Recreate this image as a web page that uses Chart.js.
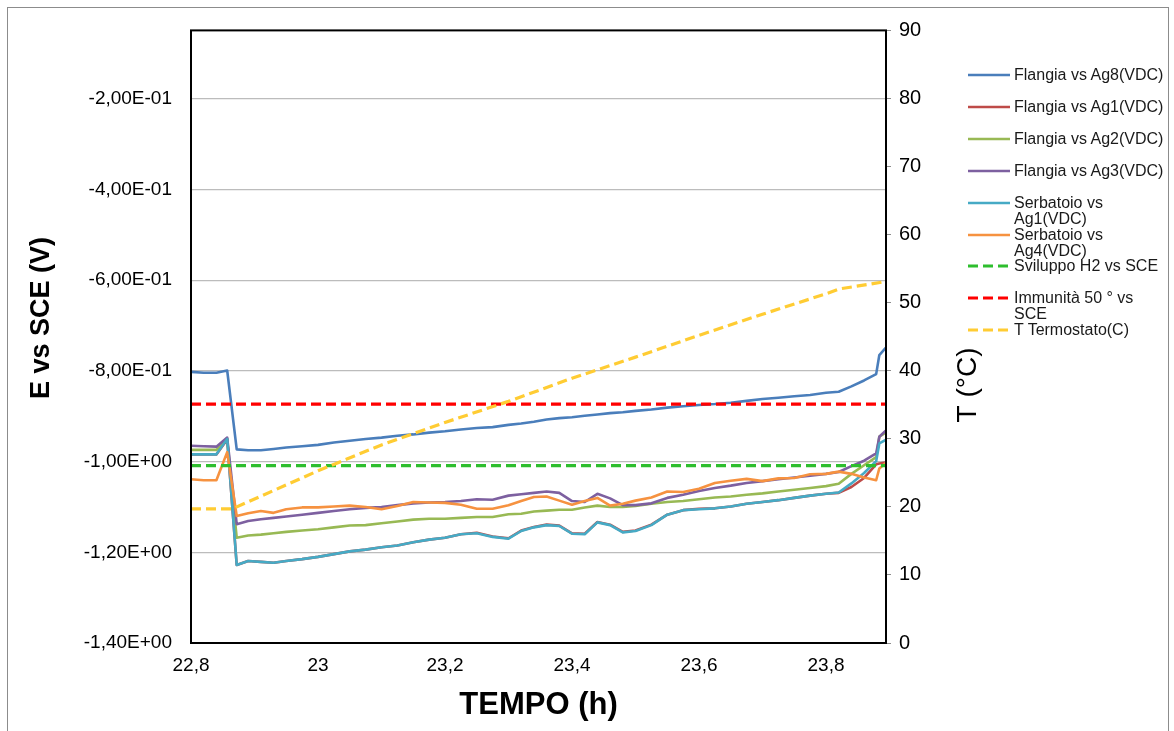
<!DOCTYPE html>
<html>
<head>
<meta charset="utf-8">
<script src="https://cdn.jsdelivr.net/npm/chart.js@4.4.1/dist/chart.umd.min.js"></script>
<style>
  html, body { margin: 0; padding: 0; background: #fff; }
  #wrap { position: relative; width: 1174px; height: 731px; overflow: hidden; }
  #frame { position: absolute; left: 7px; top: 7px; width: 1160px; height: 740px; border: 1px solid #8c8c8c; }
  #grafico { position: absolute; left: 0; top: 0; }
  #legenda { position: absolute; left: 0; top: 0; font-family: "Liberation Sans", Arial, sans-serif; font-size: 16px; color: #1a1a1a; }
  .voce { position: absolute; left: 968px; width: 210px; }
  .voce svg { position: absolute; left: 0; top: 0; }
  .voce span { position: absolute; left: 46px; top: 0; width: 154px; line-height: 16px; }
</style>
</head>
<body>
<div id="wrap">
  <div id="frame"></div>
  <canvas id="grafico" width="1174" height="731"></canvas>
  <div id="legenda"></div>
</div>
<script>
// tempo (h), comune a tutte le serie misurate
const tempo = [22.800, 22.820, 22.840, 22.857, 22.872, 22.890, 22.910, 22.930, 22.950, 22.975,
  23.000, 23.025, 23.050, 23.075, 23.100, 23.125, 23.150, 23.175, 23.200, 23.225,
  23.250, 23.275, 23.300, 23.320, 23.340, 23.360, 23.380, 23.400, 23.420, 23.440,
  23.460, 23.480, 23.500, 23.525, 23.550, 23.575, 23.600, 23.625, 23.650, 23.675,
  23.700, 23.725, 23.750, 23.775, 23.800, 23.820, 23.840, 23.860, 23.879, 23.884, 23.894];

const flangiaAg8 = [-0.802, -0.804, -0.804, -0.799, -0.973, -0.975, -0.975, -0.972, -0.969, -0.966,
  -0.963, -0.958, -0.954, -0.950, -0.947, -0.943, -0.940, -0.936, -0.933, -0.929,
  -0.926, -0.924, -0.919, -0.916, -0.912, -0.907, -0.904, -0.902, -0.899, -0.896,
  -0.893, -0.891, -0.888, -0.885, -0.881, -0.878, -0.875, -0.873, -0.870, -0.866,
  -0.862, -0.859, -0.856, -0.853, -0.848, -0.846, -0.834, -0.821, -0.807, -0.765, -0.749];

const flangiaAg1 = [-0.984, -0.984, -0.984, -0.951, -1.228, -1.219, -1.221, -1.223, -1.219, -1.215,
  -1.210, -1.204, -1.198, -1.194, -1.189, -1.185, -1.178, -1.172, -1.168, -1.160,
  -1.157, -1.165, -1.169, -1.152, -1.144, -1.139, -1.141, -1.158, -1.159, -1.133,
  -1.139, -1.155, -1.152, -1.139, -1.117, -1.107, -1.104, -1.103, -1.099, -1.093,
  -1.089, -1.085, -1.080, -1.075, -1.071, -1.069, -1.056, -1.036, -1.006, -1.004, -1.002];

const flangiaAg2 = [-0.974, -0.974, -0.974, -0.950, -1.168, -1.163, -1.161, -1.158, -1.155, -1.152,
  -1.149, -1.145, -1.141, -1.140, -1.136, -1.132, -1.128, -1.126, -1.126, -1.124,
  -1.122, -1.122, -1.116, -1.115, -1.110, -1.108, -1.106, -1.106, -1.101, -1.097,
  -1.100, -1.100, -1.098, -1.093, -1.089, -1.087, -1.083, -1.079, -1.077, -1.073,
  -1.070, -1.066, -1.062, -1.058, -1.054, -1.049, -1.027, -1.008, -0.990, -0.945, -0.936];

const flangiaAg3 = [-0.965, -0.966, -0.967, -0.947, -1.138, -1.131, -1.127, -1.124, -1.121, -1.117,
  -1.113, -1.109, -1.105, -1.102, -1.100, -1.096, -1.092, -1.090, -1.089, -1.087,
  -1.083, -1.084, -1.075, -1.072, -1.069, -1.066, -1.069, -1.087, -1.089, -1.071,
  -1.081, -1.096, -1.096, -1.092, -1.080, -1.073, -1.065, -1.058, -1.053, -1.047,
  -1.043, -1.039, -1.035, -1.031, -1.027, -1.023, -1.010, -0.998, -0.982, -0.945, -0.932];

const serbatoioAg1 = [-0.984, -0.984, -0.984, -0.950, -1.228, -1.219, -1.221, -1.223, -1.219, -1.215,
  -1.210, -1.204, -1.198, -1.194, -1.189, -1.185, -1.178, -1.172, -1.168, -1.160,
  -1.158, -1.166, -1.170, -1.153, -1.145, -1.140, -1.142, -1.159, -1.160, -1.134,
  -1.140, -1.156, -1.153, -1.140, -1.117, -1.107, -1.105, -1.103, -1.099, -1.093,
  -1.089, -1.085, -1.080, -1.075, -1.071, -1.068, -1.048, -1.025, -0.999, -0.960, -0.952];

const serbatoioAg4 = [-1.039, -1.041, -1.041, -0.979, -1.120, -1.114, -1.109, -1.113, -1.105, -1.101,
  -1.101, -1.099, -1.097, -1.100, -1.105, -1.098, -1.089, -1.090, -1.091, -1.095,
  -1.104, -1.104, -1.096, -1.087, -1.078, -1.077, -1.086, -1.095, -1.087, -1.080,
  -1.097, -1.093, -1.086, -1.079, -1.066, -1.067, -1.060, -1.047, -1.042, -1.038,
  -1.043, -1.037, -1.036, -1.028, -1.027, -1.022, -1.027, -1.035, -1.041, -1.015, -1.003];

// livelli di riferimento (V vs SCE)
const tempoLivelli = [22.800, 23.894];
const sviluppoH2 = [-1.009, -1.009];
const immunita50 = [-0.873, -0.873];

// temperatura termostato (asse destro, °C)
const tempoTermostato = [22.800, 22.865, 23.000, 23.100, 23.200, 23.300, 23.400, 23.500, 23.600, 23.700, 23.800, 23.820, 23.894];
const tTermostato = [19.7, 19.7, 25.3, 29.1, 32.4, 35.5, 38.9, 42.0, 45.2, 48.3, 51.3, 52.0, 53.1];

// assi
const xTickValues = [22.8, 23.0, 23.2, 23.4, 23.6, 23.8];
const xTickLabels = ["22,8", "23", "23,2", "23,4", "23,6", "23,8"];
const yTickValues = [-1.4, -1.2, -1.0, -0.8, -0.6, -0.4, -0.2];
const yTickLabels = ["-1,40E+00", "-1,20E+00", "-1,00E+00", "-8,00E-01", "-6,00E-01", "-4,00E-01", "-2,00E-01"];
const y1TickValues = [0, 10, 20, 30, 40, 50, 60, 70, 80, 90];

const FONT = '"Liberation Sans", Arial, sans-serif';

function punti(xs, ys) {
  return ys.map((y, i) => ({ x: xs[i], y: y }));
}

const serie = [
  { label: "Flangia vs Ag8(VDC)", colore: "#4A7EBB", data: punti(tempo, flangiaAg8), dash: [] },
  { label: "Flangia vs Ag1(VDC)", colore: "#BE4B48", data: punti(tempo, flangiaAg1), dash: [] },
  { label: "Flangia vs Ag2(VDC)", colore: "#98B954", data: punti(tempo, flangiaAg2), dash: [] },
  { label: "Flangia vs Ag3(VDC)", colore: "#7D60A0", data: punti(tempo, flangiaAg3), dash: [] },
  { label: "Serbatoio vs Ag1(VDC)", colore: "#46AAC5", data: punti(tempo, serbatoioAg1), dash: [] },
  { label: "Serbatoio vs Ag4(VDC)", colore: "#F69240", data: punti(tempo, serbatoioAg4), dash: [] },
  { label: "Sviluppo H2 vs SCE", colore: "#2EBE2E", data: punti(tempoLivelli, sviluppoH2), dash: [10, 5] },
  { label: "Immunità 50 ° vs SCE", colore: "#FF0000", data: punti(tempoLivelli, immunita50), dash: [10, 5] },
  { label: "T Termostato(C)", colore: "#FFCC33", data: punti(tempoTermostato, tTermostato), dash: [10, 5], asse: "y1" },
];

const datasets = serie.map((s, i) => ({
  label: s.label,
  data: s.data,
  borderColor: s.colore,
  backgroundColor: s.colore,
  borderWidth: s.dash.length ? 3.2 : 2.6,
  borderDash: s.dash,
  borderCapStyle: "butt",
  borderJoinStyle: "round",
  pointRadius: 0,
  tension: 0,
  fill: false,
  yAxisID: s.asse || "y",
  order: serie.length - i, // come Excel: l'ultima serie sta sopra
}));

// titoli verticali e cornice dell'area del grafico
const decorazioni = {
  id: "decorazioni",
  afterDraw(chart) {
    const { ctx, chartArea } = chart;
    ctx.save();
    ctx.strokeStyle = "#000";
    ctx.lineWidth = 2;
    ctx.strokeRect(chartArea.left, chartArea.top, chartArea.right - chartArea.left, chartArea.bottom - chartArea.top);

    ctx.fillStyle = "#000";
    ctx.textAlign = "center";
    ctx.textBaseline = "middle";
    ctx.save();
    ctx.translate(42, 318);
    ctx.rotate(-Math.PI / 2);
    ctx.font = "bold 27px " + FONT;
    ctx.fillText("E vs SCE (V)", 0, 0);
    ctx.restore();

    ctx.save();
    ctx.translate(968, 385);
    ctx.rotate(-Math.PI / 2);
    ctx.font = "28px " + FONT;
    ctx.fillText("T (°C)", 0, 0);
    ctx.restore();
    ctx.restore();
  },
};

const tickFont = { family: FONT, size: 19 };

new Chart(document.getElementById("grafico").getContext("2d"), {
  type: "line",
  data: { datasets },
  plugins: [decorazioni],
  options: {
    responsive: false,
    animation: false,
    devicePixelRatio: 1,
    layout: { padding: { left: 0, top: 28, right: 184, bottom: 3 } },
    plugins: {
      legend: { display: false },
      tooltip: { enabled: false },
    },
    scales: {
      x: {
        type: "linear",
        min: 22.8,
        max: 23.8945,
        afterBuildTicks: (s) => { s.ticks = xTickValues.map((v) => ({ value: v })); },
        afterFit: (s) => { s.height = 85; },
        grid: { display: false, drawTicks: false },
        border: { display: false },
        ticks: {
          font: tickFont,
          color: "#000",
          padding: 11,
          maxRotation: 0,
          callback: (v, i) => xTickLabels[i],
        },
        title: {
          display: true,
          text: "TEMPO (h)",
          color: "#000",
          font: { family: FONT, size: 31, weight: "bold" },
          padding: { top: 0, bottom: 4 },
        },
      },
      y: {
        position: "left",
        min: -1.4,
        max: -0.049,
        afterBuildTicks: (s) => { s.ticks = yTickValues.map((v) => ({ value: v })); },
        afterFit: (s) => { s.width = 191; },
        grid: { color: "#bcbcbc", lineWidth: 1.3, drawTicks: false },
        border: { display: false },
        ticks: {
          font: tickFont,
          color: "#000",
          padding: 19,
          callback: (v, i) => yTickLabels[i],
        },
      },
      y1: {
        position: "right",
        min: 0,
        max: 90,
        afterBuildTicks: (s) => { s.ticks = y1TickValues.map((v) => ({ value: v })); },
        afterFit: (s) => { s.width = 104; },
        grid: { drawOnChartArea: false, drawTicks: true, tickLength: 5, color: "#8c8c8c" },
        border: { display: false },
        ticks: {
          font: { family: FONT, size: 20 },
          color: "#000",
          padding: 8,
          callback: (v) => String(v),
        },
      },
    },
  },
});

// legenda a destra, costruita dalle serie
const legenda = document.getElementById("legenda");
serie.forEach((s, i) => {
  const voce = document.createElement("div");
  voce.className = "voce";
  voce.style.top = (67 + i * 31.9) + "px";
  const dash = s.dash.length ? ' stroke-dasharray="' + s.dash.join(" ") + '"' : "";
  const w = s.dash.length ? 3.2 : 2.6;
  voce.innerHTML =
    '<svg width="42" height="16"><line x1="0" y1="8" x2="42" y2="8" stroke="' + s.colore +
    '" stroke-width="' + w + '"' + dash + '/></svg>';
  const testo = document.createElement("span");
  testo.textContent = s.label;
  voce.appendChild(testo);
  legenda.appendChild(voce);
});
</script>
</body>
</html>
